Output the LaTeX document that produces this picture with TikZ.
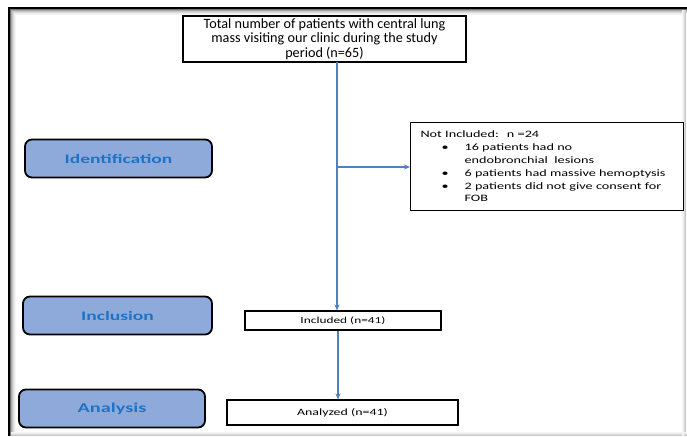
\documentclass[tikz,border=0pt]{standalone}
\usepackage{fontspec}
\setmainfont{Carlito}
\newfontfamily\topfont{Carlito}
\newfontfamily\wfont[FakeStretch=1.45]{Carlito}
\newfontfamily\lfont[FakeStretch=1.5]{Carlito}
\usetikzlibrary{arrows.meta}
\definecolor{lblue}{HTML}{8EAADB}
\definecolor{tblue}{HTML}{1F73C6}
\definecolor{ablue}{HTML}{4F81BD}
\tikzset{
  stage/.style={draw=black, line width=1.8pt, rounded corners=7pt, fill=lblue,
    minimum height=38pt, text=tblue, font=\lfont\fontsize{13}{15}\selectfont\bfseries},
  flowbox/.style={draw=black, line width=1.1pt, fill=white},
  conn/.style={draw=ablue, line width=1.4pt, -{Stealth[length=6pt,width=5pt]}},
  connplain/.style={draw=ablue, line width=1.4pt}
}
\begin{document}
\begin{tikzpicture}[x=1pt,y=-1pt]
\useasboundingbox (0,0) rectangle (687,436);
\fill[white] (0,0) rectangle (687,436);
% frame
\foreach \i/\c in {0/55,1/35,2/22,3/14,4/8,5/4}{
  \draw[black!\c!white, line width=1pt] (10.5+\i,436) -- (10.5+\i,9.5+\i) -- (687,9.5+\i);
}
\foreach \i/\c in {0/22,1/14,2/8,3/4}{
  \draw[black!\c!white, line width=1pt] (685.5-\i,10) -- (685.5-\i,436);
  \draw[black!\c!white, line width=1pt] (11,435.5-\i) -- (687,435.5-\i);
}
\draw[black, line width=2pt] (9,436) -- (9,8) -- (687,8);

% stages
\node[stage, minimum width=187pt] (ident) at (118.5,158.5) {Identification};
\node[stage, minimum width=189pt] (incl) at (117.5,315.5) {Inclusion};
\node[stage, minimum width=186pt, font=\lfont\fontsize{13.5}{15}\selectfont\bfseries] (anal) at (112,408.5) {Analysis};

% flow boxes
\node[flowbox, minimum width=283pt, minimum height=46pt, align=center,
  font=\topfont\fontsize{14.2}{14.5}\selectfont, inner sep=0pt] (total) at (324.5,39)
  {Total number of patients with central lung\\mass visiting our clinic during the study\\period (n=65)};

\node[flowbox, anchor=north west, minimum width=273pt, minimum height=88pt,
  text width=253pt, inner sep=0pt, align=left,
  font=\wfont\fontsize{9.8}{12.8}\selectfont] (excl) at (410,122)
  {\parbox[t][88pt][c]{253pt}{\raggedright
  Not Included:~ n =24\\
  \hspace*{21pt}\makebox[23pt][l]{\textbullet}16 patients had no\\
  \hspace*{44pt}endobronchial~ lesions\\
  \hspace*{21pt}\makebox[23pt][l]{\textbullet}6 patients had massive hemoptysis\\
  \hspace*{21pt}\makebox[23pt][l]{\textbullet}2 patients did not give consent for\\
  \hspace*{44pt}FOB}};

\node[flowbox, minimum width=196pt, minimum height=19pt, inner sep=0pt,
  font=\wfont\fontsize{9.2}{11}\selectfont] (inc) at (343,320.5) {Included (n=41)};
\node[flowbox, minimum width=231pt, minimum height=25pt, inner sep=0pt,
  font=\wfont\fontsize{9.6}{11}\selectfont] (ana) at (342.5,412.5) {Analyzed (n=41)};

% connectors
\coordinate (s1) at (337,62);
\coordinate (br) at (337,167);
\draw[connplain] (s1) -- (br);
\draw[conn] (br) -- (inc.north -| br);
\draw[conn] (br) -- (excl.west |- br);
\draw[conn] (inc.south -| br) ++(1,0) coordinate (s2) -- (ana.north -| s2);
\end{tikzpicture}
\end{document}
